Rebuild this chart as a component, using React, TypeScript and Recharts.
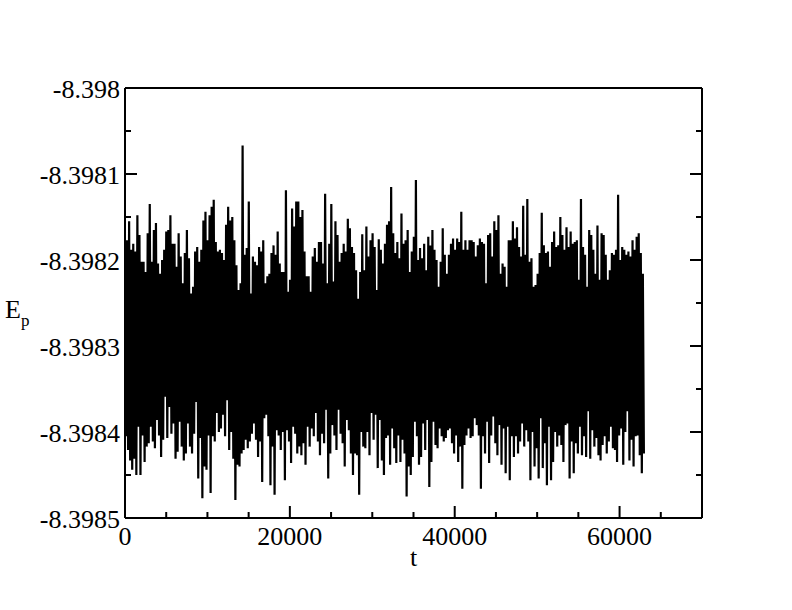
import { LineChart, Line, XAxis, YAxis, Label } from "recharts";

// E_p: upper tips and lower tips of the trace, left to right
const epTop = [
  -8.398188, -8.398177, -8.398155, -8.398188, -8.398181, -8.39819, -8.398148, -8.398171, -8.398202, -8.398202,
  -8.398214, -8.398169, -8.398135, -8.398202, -8.398165, -8.398157, -8.398204, -8.398216, -8.3982, -8.398188,
  -8.398167, -8.398165, -8.398148, -8.398181, -8.398181, -8.398208, -8.398169, -8.398196, -8.398227, -8.398192,
  -8.398165, -8.398198, -8.398239, -8.398231, -8.39819, -8.398185, -8.398202, -8.398188, -8.398154, -8.398144,
  -8.398177, -8.398148, -8.398138, -8.39813, -8.398179, -8.39819, -8.398188, -8.398192, -8.3982, -8.398159,
  -8.398138, -8.398154, -8.39815, -8.398177, -8.398206, -8.398235, -8.398227, -8.398067, -8.398194, -8.398186,
  -8.398132, -8.398239, -8.398196, -8.398202, -8.398206, -8.398185, -8.39819, -8.398177, -8.398227, -8.398219,
  -8.398216, -8.398192, -8.398183, -8.398194, -8.398167, -8.398204, -8.398214, -8.398214, -8.398119, -8.398237,
  -8.398223, -8.39814, -8.398161, -8.398132,
  -8.398132, -8.39815, -8.398142, -8.39819, -8.398219, -8.398219, -8.398237, -8.398196, -8.398186, -8.398202,
  -8.398179, -8.398179, -8.398204, -8.398123, -8.398227, -8.398181, -8.398135, -8.398225, -8.398155, -8.398171,
  -8.398202, -8.398192, -8.398181, -8.39819, -8.398152, -8.398163, -8.398185, -8.398192, -8.398212, -8.398245,
  -8.398214, -8.39817, -8.398212, -8.398161, -8.398196, -8.398177, -8.398169, -8.398185, -8.398235, -8.398176,
  -8.398188, -8.398204, -8.398181, -8.398159, -8.398155, -8.398115, -8.398169, -8.398192, -8.398179, -8.398198,
  -8.398146, -8.398181, -8.398177, -8.398165, -8.398214, -8.39819, -8.398173, -8.398107, -8.3982, -8.398186,
  -8.398198, -8.398181, -8.398212, -8.398173, -8.398183, -8.398165, -8.398188, -8.3982, -8.398231, -8.398202,
  -8.398163, -8.398194, -8.398216, -8.398194, -8.398181, -8.398175, -8.398188, -8.398175, -8.398179, -8.398144,
  -8.398188, -8.398177, -8.398188, -8.398177,
  -8.398177, -8.398179, -8.398196, -8.398183, -8.398175, -8.398179, -8.398181, -8.398227, -8.398171, -8.398169,
  -8.398196, -8.398155, -8.398165, -8.398148, -8.398216, -8.398204, -8.398208, -8.398231, -8.398177, -8.398177,
  -8.398155, -8.398175, -8.398162, -8.398185, -8.398196, -8.398137, -8.398194, -8.398129, -8.398202, -8.398198,
  -8.398231, -8.398229, -8.398216, -8.398192, -8.398145, -8.398183, -8.398192, -8.39819, -8.398208, -8.398179,
  -8.398167, -8.398185, -8.398183, -8.39815, -8.398171, -8.398188, -8.398162, -8.398185, -8.398167, -8.398181,
  -8.398179, -8.398177, -8.398223, -8.398129, -8.398185, -8.398194, -8.398231, -8.398165, -8.398171, -8.398188,
  -8.398216, -8.39816, -8.398223, -8.398169, -8.398171, -8.398194, -8.398223, -8.398212, -8.398192, -8.398194,
  -8.398188, -8.398124, -8.3982, -8.398185, -8.398188, -8.398194, -8.39819, -8.398196, -8.398177, -8.398188,
  -8.398173, -8.398169, -8.398192, -8.398216,
];

const epBottom = [
  -8.398405, -8.398421, -8.398433, -8.398444, -8.398431, -8.39845, -8.398394, -8.39845, -8.398404, -8.398435,
  -8.398417, -8.398413, -8.398394, -8.398411, -8.398419, -8.398386, -8.398404, -8.398429, -8.398409, -8.398359,
  -8.398407, -8.398371, -8.398402, -8.39839, -8.398431, -8.398423, -8.398388, -8.398417, -8.398433, -8.398425,
  -8.39839, -8.398417, -8.398425, -8.398402, -8.398365, -8.398454, -8.398407, -8.398477, -8.39844, -8.398444,
  -8.398404, -8.398471, -8.398405, -8.398411, -8.398378, -8.3984, -8.398396, -8.39838, -8.398405, -8.398363,
  -8.398421, -8.3984, -8.398431, -8.398479, -8.398438, -8.39844, -8.398425, -8.398421, -8.398409, -8.398419,
  -8.398411, -8.398402, -8.39839, -8.398409, -8.398429, -8.398411, -8.398458, -8.398384, -8.39838, -8.398405,
  -8.398462, -8.398417, -8.398473, -8.398398, -8.398404, -8.398421, -8.3984, -8.398456, -8.398398, -8.398411,
  -8.398436, -8.398394, -8.398402, -8.398425,
  -8.398417, -8.398427, -8.398413, -8.398438, -8.398394, -8.398417, -8.398396, -8.398405, -8.398378, -8.398411,
  -8.398427, -8.398402, -8.398413, -8.398374, -8.398454, -8.398425, -8.398392, -8.398404, -8.398421, -8.398374,
  -8.398402, -8.398413, -8.39844, -8.398386, -8.398398, -8.398425, -8.39845, -8.398425, -8.398427, -8.398473,
  -8.3984, -8.398417, -8.398419, -8.3984, -8.398427, -8.398378, -8.398409, -8.39838, -8.398442, -8.398386,
  -8.398433, -8.39845, -8.398407, -8.398404, -8.398438, -8.398396, -8.398419, -8.398436, -8.398404, -8.398435,
  -8.398409, -8.398425, -8.398475, -8.39844, -8.39845, -8.398429, -8.398388, -8.398405, -8.398438, -8.398429,
  -8.39839, -8.398421, -8.398386, -8.398464, -8.398435, -8.398388, -8.398415, -8.398419, -8.398396, -8.398405,
  -8.398411, -8.398407, -8.398398, -8.398396, -8.398413, -8.398425, -8.398404, -8.398435, -8.398417, -8.398466,
  -8.398415, -8.398404, -8.398396, -8.398407,
  -8.398405, -8.398384, -8.398392, -8.398404, -8.398466, -8.398405, -8.398425, -8.398388, -8.398436, -8.398404,
  -8.398382, -8.398413, -8.398427, -8.398392, -8.398438, -8.398396, -8.398448, -8.398394, -8.398456, -8.398405,
  -8.398429, -8.398405, -8.398425, -8.398411, -8.39839, -8.398417, -8.398398, -8.398411, -8.398456, -8.3984,
  -8.39844, -8.398419, -8.398454, -8.398384, -8.398442, -8.398413, -8.398462, -8.398394, -8.398456, -8.398435,
  -8.3984, -8.398417, -8.398404, -8.398415, -8.398435, -8.398392, -8.39839, -8.398454, -8.398411, -8.398448,
  -8.398413, -8.398425, -8.398394, -8.398427, -8.398405, -8.398429, -8.398376, -8.398431, -8.398398, -8.398417,
  -8.398407, -8.398427, -8.398433, -8.398415, -8.398405, -8.398425, -8.398411, -8.398394, -8.398419, -8.398421,
  -8.398435, -8.398404, -8.398396, -8.398438, -8.3984, -8.398376, -8.398433, -8.398409, -8.39844, -8.398405,
  -8.398404, -8.398427, -8.398448, -8.398425,
];

// time span covered by the trace
const tFirst = 0;
const tLast = 62950;

const xTicks = [0, 5000, 10000, 15000, 20000, 25000, 30000, 35000, 40000, 45000, 50000, 55000, 60000, 65000, 70000];
const xLabelled = [0, 20000, 40000, 60000];
const yTicks = [-8.3985, -8.39845, -8.3984, -8.39835, -8.3983, -8.39825, -8.3982, -8.39815, -8.3981, -8.39805, -8.398];
const yLabelled = [-8.3985, -8.3984, -8.3983, -8.3982, -8.3981, -8.398];

const n = Math.min(epTop.length, epBottom.length);
const dt = (tLast - tFirst) / (2 * n - 1);
const data: { t: number; ep: number }[] = [];
for (let i = 0; i < n; i++) {
  data.push({ t: tFirst + 2 * i * dt, ep: epTop[i] });
  data.push({ t: tFirst + (2 * i + 1) * dt, ep: epBottom[i] });
}

const FONT = "'Liberation Serif', 'DejaVu Serif', serif";
const MAJOR = 12;
const MINOR = 6;

const fmtY = (v: number) => v.toFixed(4).replace(/0+$/, "");

function BottomTick({ x, y, payload }: any) {
  const major = xLabelled.includes(payload.value);
  return (
    <g>
      <line x1={x} y1={y} x2={x} y2={y - (major ? MAJOR : MINOR)} stroke="#000" strokeWidth={2} />
      {major && (
        <text x={x} y={y + 27} textAnchor="middle" style={{ fontFamily: FONT }} fontSize={26} fill="#000">
          {payload.value}
        </text>
      )}
    </g>
  );
}

function TopTick({ x, y, payload }: any) {
  const major = xLabelled.includes(payload.value);
  return <line x1={x} y1={y} x2={x} y2={y + (major ? MAJOR : MINOR)} stroke="#000" strokeWidth={2} />;
}

function LeftTick({ x, y, payload }: any) {
  const major = yLabelled.includes(payload.value);
  return (
    <g>
      <line x1={x} y1={y} x2={x + (major ? MAJOR : MINOR)} y2={y} stroke="#000" strokeWidth={2} />
      {major && (
        <text x={x - 5} y={y + 10} textAnchor="end" style={{ fontFamily: FONT }} fontSize={26} fill="#000">
          {fmtY(payload.value)}
        </text>
      )}
    </g>
  );
}

function RightTick({ x, y, payload }: any) {
  const major = yLabelled.includes(payload.value);
  return <line x1={x} y1={y} x2={x - (major ? MAJOR : MINOR)} y2={y} stroke="#000" strokeWidth={2} />;
}

function XTitle({ viewBox }: any) {
  return (
    <text x={viewBox.x + viewBox.width / 2} y={viewBox.y + 48} textAnchor="middle" style={{ fontFamily: FONT }} fontSize={26} fill="#000">
      t
    </text>
  );
}

function YTitle({ viewBox }: any) {
  const cy = viewBox.y + viewBox.height / 2;
  return (
    <text x={viewBox.x + 5} y={cy + 15} style={{ fontFamily: FONT }} fontSize={26} fill="#000">
      <tspan>E</tspan>
      <tspan dy={8} fontSize={17}>p</tspan>
    </text>
  );
}

const axisLine = { stroke: "#000", strokeWidth: 2 };

export default function App() {
  return (
    <div style={{ position: "absolute", left: 0, top: 0, width: 792, height: 610, background: "#fff" }}>
      <LineChart width={792} height={610} data={data} margin={{ top: 0, right: 0, bottom: 0, left: 0 }}>
        <XAxis
          dataKey="t"
          type="number"
          domain={[0, 70000]}
          ticks={xTicks}
          interval={0}
          height={92}
          tickSize={0}
          tickMargin={0}
          tickLine={false}
          axisLine={axisLine}
          tick={<BottomTick />}
          allowDataOverflow
        >
          <Label content={<XTitle />} />
        </XAxis>
        <XAxis
          xAxisId="top"
          orientation="top"
          type="number"
          domain={[0, 70000]}
          ticks={xTicks}
          interval={0}
          height={88}
          tickSize={0}
          tickMargin={0}
          tickLine={false}
          axisLine={axisLine}
          tick={<TopTick />}
          allowDataOverflow
        />
        <YAxis
          type="number"
          domain={[-8.3985, -8.398]}
          ticks={yTicks}
          interval={0}
          width={125}
          tickSize={0}
          tickMargin={0}
          tickLine={false}
          axisLine={axisLine}
          tick={<LeftTick />}
          allowDataOverflow
        >
          <Label content={<YTitle />} />
        </YAxis>
        <YAxis
          yAxisId="right"
          orientation="right"
          type="number"
          domain={[-8.3985, -8.398]}
          ticks={yTicks}
          interval={0}
          width={90}
          tickSize={0}
          tickMargin={0}
          tickLine={false}
          axisLine={axisLine}
          tick={<RightTick />}
          allowDataOverflow
        />
        <Line
          type="linear"
          dataKey="ep"
          stroke="#000"
          strokeWidth={2.2}
          dot={false}
          activeDot={false}
          isAnimationActive={false}
        />
      </LineChart>
    </div>
  );
}
